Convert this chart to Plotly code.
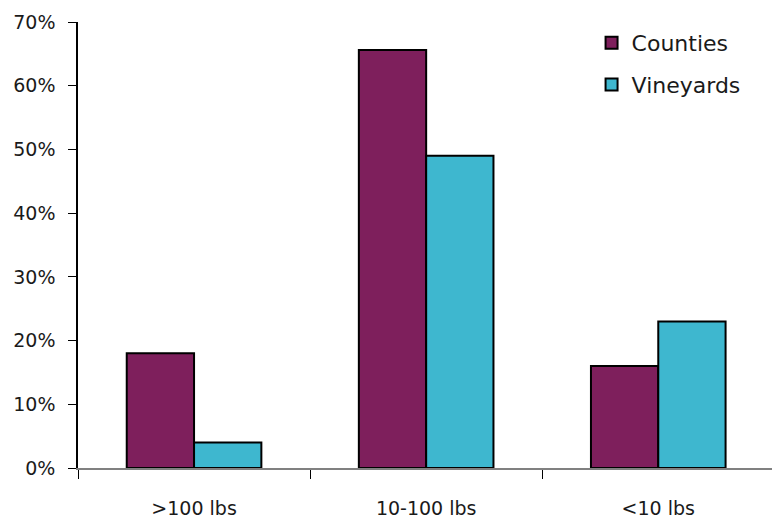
import plotly.graph_objects as go

categories = [">100 lbs", "10-100 lbs", "<10 lbs"]
counties = [18, 65.6, 16]
vineyards = [4, 49, 23]
y_ticks = [0, 10, 20, 30, 40, 50, 60, 70]
y_tick_labels = [f"{v}%" for v in y_ticks]

FONT = "DejaVu Sans, sans-serif"
TEXT = "#1a1a1a"
X_RANGE = [-0.5, 2.49]

fig = go.Figure()
fig.add_trace(go.Bar(
    name="Counties", x=categories, y=counties, legendgroup="c",
    marker=dict(color="#7E1F5C", line=dict(color="#000000", width=2)),
))
fig.add_trace(go.Bar(
    name="Vineyards", x=categories, y=vineyards, legendgroup="v",
    marker=dict(color="#3EB7CF", line=dict(color="#000000", width=2)),
))

fig.update_layout(
    width=772, height=521,
    margin=dict(l=78, r=0, t=22, b=53),
    paper_bgcolor="white", plot_bgcolor="white",
    barmode="group", bargap=0.42, bargroupgap=0,
    font=dict(family=FONT, size=19, color=TEXT),
    showlegend=True,
    legend=dict(
        x=0.74, y=1.0, xanchor="left", yanchor="top",
        font=dict(size=22, color=TEXT), tracegroupgap=10,
        bgcolor="rgba(0,0,0,0)",
    ),
    xaxis=dict(
        type="category", range=X_RANGE, automargin=False,
        showline=True, linecolor="#808080", linewidth=1.5,
        ticks="outside", tickson="boundaries", ticklen=9,
        tickcolor="#000000", tickwidth=1,
        ticklabelstandoff=22, showgrid=False, zeroline=False,
        tickfont=dict(size=19, color=TEXT),
    ),
    yaxis=dict(
        range=[0, 70], tickvals=y_ticks, ticktext=y_tick_labels,
        automargin=False,
        showline=True, linecolor="#000000", linewidth=1.5,
        ticks="outside", ticklen=8, tickcolor="#000000", tickwidth=1,
        ticklabelstandoff=9, showgrid=False, zeroline=False,
        tickfont=dict(size=19, color=TEXT),
    ),
    # companion axes draw the inner half of each crossing tick mark
    xaxis2=dict(
        overlaying="x", range=X_RANGE, tickvals=[-0.5, 0.5, 1.5, 2.5],
        showticklabels=False, ticks="inside", ticklen=8, automargin=False,
        tickcolor="#000000", tickwidth=1, showgrid=False, zeroline=False,
        showline=False,
    ),
    yaxis2=dict(
        overlaying="y", range=[0, 70], tickvals=y_ticks, automargin=False,
        showticklabels=False, ticks="inside", ticklen=7,
        tickcolor="#000000", tickwidth=1, showgrid=False, zeroline=False,
        showline=False,
    ),
)

fig.write_html("out.html")
